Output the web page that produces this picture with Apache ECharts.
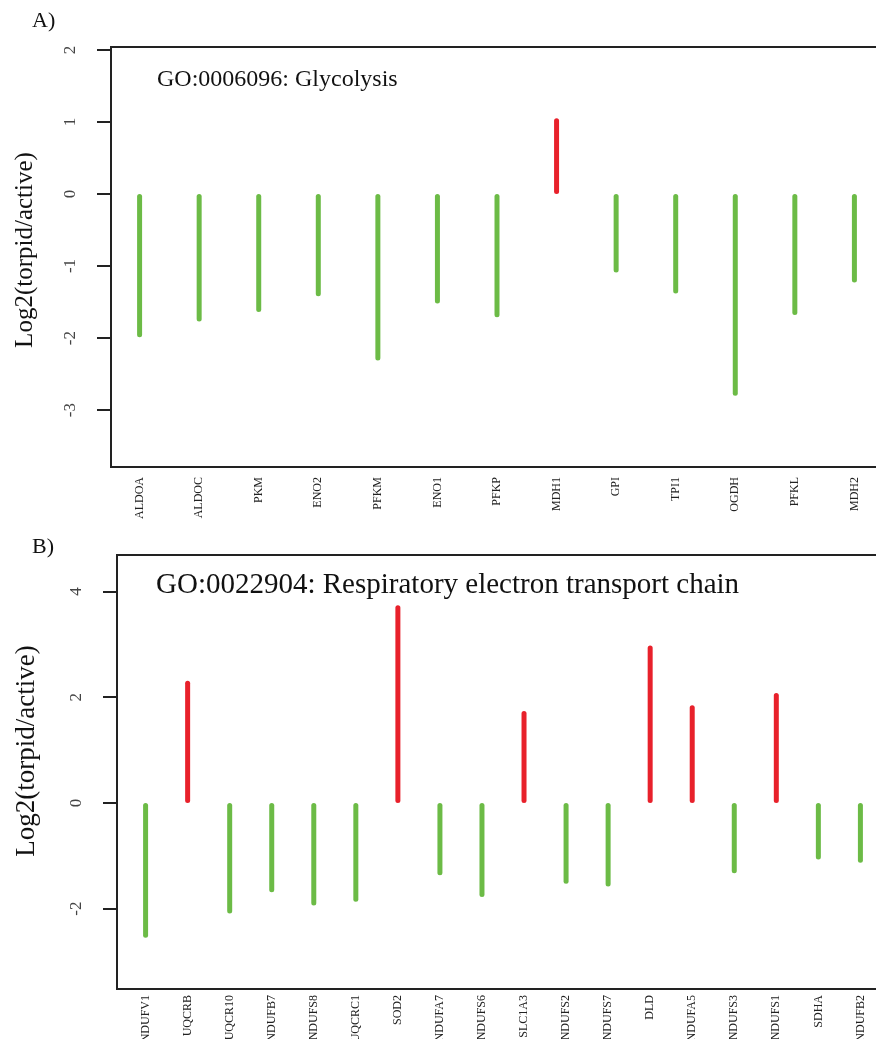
<!DOCTYPE html>
<html>
<head>
<meta charset="utf-8">
<script src="https://cdn.jsdelivr.net/npm/echarts@6/dist/echarts.min.js"></script>
<style>
  html, body { margin: 0; padding: 0; background: #fff; }
  #chart { width: 876px; height: 1039px; }
</style>
</head>
<body>
<div id="chart"></div>
<script>
// panel A: GO:0006096 Glycolysis
var genesA = ['ALDOA', 'ALDOC', 'PKM', 'ENO2', 'PFKM', 'ENO1', 'PFKP', 'MDH1', 'GPI', 'TPI1', 'OGDH', 'PFKL', 'MDH2'];
var log2A = [-1.99, -1.77, -1.64, -1.42, -2.31, -1.52, -1.71, 1.05, -1.09, -1.38, -2.80, -1.68, -1.23];
var ticksA = [-3, -2, -1, 0, 1, 2];

// panel B: GO:0022904 Respiratory electron transport chain
var genesB = ['NDUFV1', 'UQCRB', 'UQCR10', 'NDUFB7', 'NDUFS8', 'UQCRC1', 'SOD2', 'NDUFA7', 'NDUFS6', 'SLC1A3',
              'NDUFS2', 'NDUFS7', 'DLD', 'NDUFA5', 'NDUFS3', 'NDUFS1', 'SDHA', 'NDUFB2'];
var log2B = [-2.55, 2.31, -2.09, -1.69, -1.94, -1.87, 3.74, -1.37, -1.78, 1.74,
             -1.53, -1.58, 2.98, 1.85, -1.33, 2.08, -1.07, -1.13];
var ticksB = [-2, 0, 2, 4];

var GREEN = '#6cbb46';
var RED = '#e8212b';
var SERIF = '"Liberation Serif", "Times New Roman", serif';

function positions(list) {
    return list.map(function (g, i) { return i + 1; });
}

function points(values) {
    return values.map(function (v, i) {
        return { value: [i + 1, v], itemStyle: { color: v > 0 ? RED : GREEN } };
    });
}

function xAxisFor(idx, names, margin) {
    var pad = (names.length - 1) * 0.04;
    return {
        type: 'value', gridIndex: idx,
        min: 1 - pad, max: names.length + pad,
        axisLine: { show: false },
        axisTick: { show: false },
        splitLine: { show: false },
        axisLabel: {
            customValues: positions(names),
            rotate: 90, margin: margin,
            fontFamily: SERIF, fontSize: 12, color: '#222',
            formatter: function (v) { return names[Math.round(v) - 1]; }
        }
    };
}

function yAxisFor(idx, min, max, ticks) {
    return {
        type: 'value', gridIndex: idx, min: min, max: max,
        axisLine: { show: false },
        splitLine: { show: false },
        axisTick: { show: true, inside: false, length: 14, customValues: ticks,
                    lineStyle: { color: '#222', width: 2 } },
        axisLabel: { customValues: ticks, rotate: 90, margin: 32,
                     fontFamily: SERIF, fontSize: 17, color: '#444' }
    };
}

var chart = echarts.init(document.getElementById('chart'));
chart.setOption({
    animation: false,
    backgroundColor: '#fff',
    grid: [
        { left: 111, top: 47, width: 772, height: 420, show: true, outerBoundsMode: 'none',
          borderColor: '#222', borderWidth: 2, backgroundColor: 'transparent' },
        { left: 117, top: 555, width: 772, height: 434, show: true, outerBoundsMode: 'none',
          borderColor: '#222', borderWidth: 2, backgroundColor: 'transparent' }
    ],
    xAxis: [xAxisFor(0, genesA, 10), xAxisFor(1, genesB, 6)],
    yAxis: [yAxisFor(0, -3.79, 2.04, ticksA), yAxisFor(1, -3.52, 4.69, ticksB)],
    series: [
        { type: 'bar', xAxisIndex: 0, yAxisIndex: 0, barWidth: 5,
          itemStyle: { borderRadius: 2.5 }, data: points(log2A) },
        { type: 'bar', xAxisIndex: 1, yAxisIndex: 1, barWidth: 5,
          itemStyle: { borderRadius: 2.5 }, data: points(log2B) }
    ],
    graphic: [
        { type: 'text', left: 32, top: 10,
          style: { text: 'A)', font: '22px ' + SERIF, fill: '#111' } },
        { type: 'text', left: 32, top: 536,
          style: { text: 'B)', font: '22px ' + SERIF, fill: '#111' } },
        { type: 'text', x: 157, y: 80,
          style: { text: 'GO:0006096: Glycolysis', font: '24px ' + SERIF, fill: '#111',
                   textVerticalAlign: 'middle' } },
        { type: 'text', x: 156, y: 585,
          style: { text: 'GO:0022904: Respiratory electron transport chain', font: '29px ' + SERIF,
                   fill: '#111', textVerticalAlign: 'middle' } },
        { type: 'text', x: 25, y: 250, rotation: Math.PI / 2,
          style: { text: 'Log2(torpid/active)', font: '25px ' + SERIF, fill: '#111',
                   textAlign: 'center', textVerticalAlign: 'middle' } },
        { type: 'text', x: 27, y: 751, rotation: Math.PI / 2,
          style: { text: 'Log2(torpid/active)', font: '27px ' + SERIF, fill: '#111',
                   textAlign: 'center', textVerticalAlign: 'middle' } }
    ]
});
</script>
</body>
</html>
